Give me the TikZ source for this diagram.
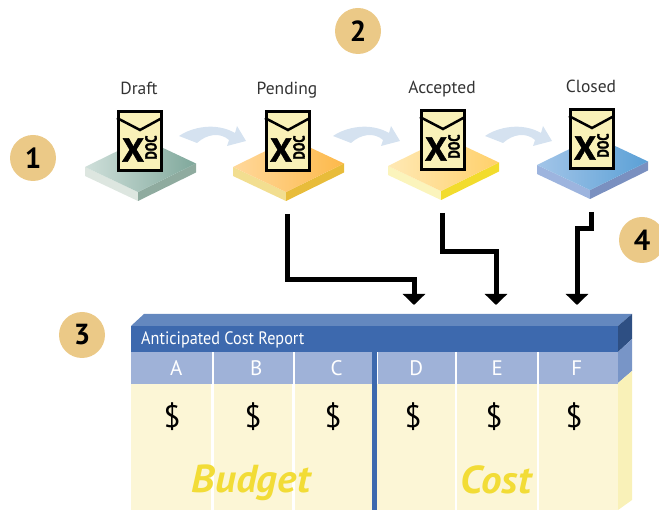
\documentclass[tikz,border=0pt]{standalone}
\usepackage{fontspec}
\usepackage{xcolor}
\setmainfont{PT Sans}
\newfontfamily\heavyfont[FakeBold=1.6]{PT Sans Bold}
\usepackage{tikz}
\usetikzlibrary{arrows.meta}
\definecolor{numtan}{HTML}{EBC987}
\definecolor{flowblue}{HTML}{D5E2F0}
\definecolor{paper}{HTML}{F9F1B8}
\definecolor{barblue}{HTML}{3D69AE}
\definecolor{topblue}{HTML}{6488BF}
\definecolor{headblue}{HTML}{9FB2D8}
\definecolor{bodyyellow}{HTML}{FCF6D6}
\definecolor{wordyellow}{HTML}{F2DC36}
\tikzstyle{numdot} = [circle, minimum size=46pt, inner sep=0pt, fill=numtan, font=\fontsize{29}{29}\selectfont\bfseries]
\tikzstyle{docbox} = [rectangle, minimum width=43.5pt, minimum height=59pt, line width=3pt, draw=black, fill=paper]
\tikzstyle{stagename} = [inner sep=0pt, anchor=base, text=black!80, font=\fontsize{17.5}{17.5}\selectfont]
\tikzstyle{colhead} = [rectangle, anchor=north west, minimum height=32pt, inner sep=0pt, fill=headblue, text=white, font=\fontsize{21}{21}\selectfont]
\tikzstyle{money} = [inner sep=0pt, font=\fontsize{31}{31}\selectfont]
\tikzstyle{bigword} = [inner sep=0pt, text=wordyellow, xscale=1.05, font=\fontsize{39}{39}\selectfont\bfseries\itshape]
\tikzstyle{arrow} = [line width=5pt, -{Triangle[width=22pt,length=11pt]}]
% name, bottom corner x, y, text, then the four plate colours
\newcommand{\stage}[8]{
    \definecolor{plateL}{HTML}{#5}
    \definecolor{plateR}{HTML}{#6}
    \definecolor{sideL}{HTML}{#7}
    \definecolor{sideR}{HTML}{#8}
    \begin{scope}[shift={(#2,#3)}]
        \fill[sideL] (-53,-25) -- (0,0) -- (0,9) -- (-53,-16) -- cycle;
        \fill[sideR] (58,-28.5) -- (0,0) -- (0,9) -- (58,-19.5) -- cycle;
        \shade[left color=plateL, right color=plateR] (-53,-25) -- (0,0) -- (58,-28.5) -- (5,-53.5) -- cycle;
        \node (#1doc) [docbox] at (2,-51) {};
        \draw [line width=2.5pt] (-21,-74) -- (2,-62) -- (24,-74);
        \node [inner sep=0pt, xscale=1.05, font=\fontsize{33}{33}\selectfont\heavyfont] at (-5,-42) {X};
        \node [inner sep=0pt, rotate=90, xscale=.8, font=\fontsize{16}{16}\selectfont\heavyfont] at (13,-44.5) {DOC};
        \node (#1name) [stagename] at (1,-97) {#4};
        \coordinate (#1out) at (1,22);
    \end{scope}
}
\begin{document}
\begin{tikzpicture}[x=1pt, y=-1pt]
    \useasboundingbox (0,0) rectangle (659,510);
    \clip (0,0) rectangle (659,510);

    \foreach \x in {0,154,306}
        \fill [flowblue, shift={(\x,0)}] (179,136) .. controls (192,127) and (216,122) .. (235,133) -- (237,126) -- (246,141) -- (227,146) -- (229,140) .. controls (220,132) and (207,134) .. (197,143) -- cycle;

    \stage{draft}{138}{192}{Draft}{CFDFDA}{7FA89B}{DDE6E0}{8FAB9F}
    \stage{pending}{286}{192}{Pending}{FFD89B}{FDB94A}{F2DE90}{E8BC3A}
    \stage{accepted}{441}{191}{Accepted}{FFE9B5}{FFD06A}{FBF4BC}{F2DC2D}
    \stage{closed}{590}{190}{Closed}{A3C5E8}{5AA0D6}{9DB4DE}{7A90C0}

    \node (num1) [numdot] at (33,158) {1};
    \node (num2) [numdot] at (358,31) {2};
    \node (num3) [numdot] at (82,335) {3};
    \node (num4) [numdot] at (642,240) {4};

    % report
    \fill [topblue] (131,326) -- (144,314) -- (632,314) -- (618,326) -- cycle;
    \fill [barblue!75!black] (618,326) -- (632,314) -- (632,339) -- (618,352) -- cycle;
    \fill [headblue!60!barblue] (618,352) -- (632,339) -- (632,371) -- (618,383) -- cycle;
    \fill [paper] (618,383) -- (632,371) -- (632,500) -- (618,510) -- cycle;
    \fill [barblue] (131,326) rectangle (618,352);
    \fill [bodyyellow] (131,384) rectangle (618,510);

    \node (title) [inner sep=0pt, anchor=west, text=white, xscale=.9, font=\fontsize{18}{18}\selectfont] at (141,340) {Anticipated Cost Report};

    \node (colA) [colhead, minimum width=80.3pt] at (131,352) {\hspace*{10pt}A};
    \node (colB) [colhead, minimum width=78.3pt] at (214,352) {\hspace*{6pt}B};
    \node (colC) [colhead, minimum width=77pt] at (295,352) {\hspace*{6pt}C};
    \node (colD) [colhead, minimum width=77.7pt] at (377.3,352) {D};
    \node (colE) [colhead, minimum width=80pt] at (457,352) {E};
    \node (colF) [colhead, minimum width=79pt] at (539,352) {F\hspace*{4pt}};

    \draw [white, line width=2.7pt] (212.6,384) -- (212.6,510);
    \draw [white, line width=2.7pt] (293.6,384) -- (293.6,510);
    \draw [white, line width=2.2pt] (456,352) -- (456,510);
    \draw [white, line width=2.2pt] (538,352) -- (538,510);
    \draw [barblue, line width=5.3pt] (374.7,352) -- (374.7,510);

    \node (sumA) [money] at (172,417) {\$};
    \node (sumB) [money] at (253,417) {\$};
    \node (sumC) [money] at (333,417) {\$};
    \node (sumD) [money] at (413,417) {\$};
    \node (sumE) [money] at (494,417) {\$};
    \node (sumF) [money] at (574,417) {\$};

    \node (budget) [bigword] at (251,483) {Budget};
    \node (cost) [bigword] at (496,480) {Cost};

    \coordinate (inD) at (414,305);
    \coordinate (inE) at (496,305);
    \coordinate (inF) at (577,305);
    \coordinate (turnD) at (414,280);
    \coordinate (turnE) at (496,252);
    \coordinate (turnF) at (577,229);

    \draw [arrow] (pendingout) |- (turnD) -- (inD);
    \draw [arrow] (acceptedout) |- (turnE) -- (inE);
    \draw [arrow] (closedout) |- (turnF) -- (inF);
\end{tikzpicture}
\end{document}
